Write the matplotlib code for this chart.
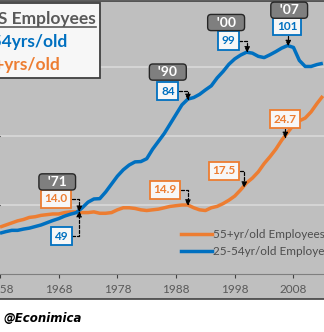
import matplotlib
matplotlib.use("Agg")
import matplotlib.pyplot as plt
from matplotlib.patches import Rectangle
from matplotlib.lines import Line2D

# data (annual)
years = list(range(1958, 2014))
prime_age = [42.0, 42.5, 42.9, 42.9, 43.3, 43.6, 44.1, 44.6, 45.3, 46.0,
             46.6, 47.4, 48.0, 48.5, 50.0, 51.8, 52.8, 52.9, 55.0, 57.5,
             60.0, 62.0, 63.5, 64.5, 64.6, 65.5, 68.5, 71.0, 73.5, 76.5,
             79.5, 82.5, 84.3, 84.8, 85.8, 87.2, 88.5, 91.0, 93.0, 95.3,
             97.0, 98.2, 99.1, 98.8, 97.8, 97.4, 98.3, 99.3, 100.4, 101.2,
             100.6, 96.5, 94.6, 94.6, 95.2, 95.6]
older = [11.8, 12.1, 12.4, 12.7, 12.9, 13.2, 13.3, 13.5, 13.6, 13.7,
         13.7, 13.9, 14.0, 14.0, 13.9, 13.9, 14.0, 13.8, 13.8, 13.9,
         14.3, 14.6, 14.6, 14.5, 14.3, 14.2, 14.3, 14.4, 14.6, 14.8,
         14.9, 15.0, 15.0, 14.6, 14.3, 14.2, 14.6, 14.8, 15.2, 15.7,
         16.3, 17.2, 18.2, 18.9, 19.8, 21.0, 22.0, 23.1, 24.4, 25.5,
         26.6, 27.2, 27.6, 28.5, 29.7, 30.8]

ann_x = [1971.5, 1990.0, 2000.1, 2007.1]
ann_tags = ["'71", "'90", "'00", "'07"]
ann_prime = [49, 84, 99, 101]
ann_older = [14.0, 14.9, 17.5, 24.7]
xticks = [1958, 1968, 1978, 1988, 1998, 2008]

BLUE = '#0070C0'
ORANGE = '#ED7D31'
GREY_TXT = '#595959'
BG = '#BFBFBF'

plt.rcParams['font.family'] = ['Lato', 'DejaVu Sans']

W, H = 324, 332
fig = plt.figure(figsize=(W / 100, H / 100), dpi=100)
fig.patch.set_facecolor('white')

def fx(x):
    return x / W

def fy(y):
    return 1 - y / H

# grey chart area with dark border (behind the axes)
fig.patches.append(Rectangle((-0.01, fy(299)), 1.02, fy(0.7) - fy(299),
                             transform=fig.transFigure, facecolor=BG,
                             edgecolor='#404040', linewidth=1.2, zorder=-5))

ax = fig.add_axes([0, fy(274), 1, fy(-2) - fy(274)])
ax.set_facecolor('none')
ax.set_xlim(1958.29, 2013.2)
ax.set_ylim(5, 45)
ax.set_yticks([15, 25, 35])
ax.yaxis.grid(True, color='#D9D9D9', linewidth=1.2)
ax.set_axisbelow(True)
ax.tick_params(axis='y', left=False, labelleft=False)
for s in ['top', 'left', 'right']:
    ax.spines[s].set_visible(False)
ax.spines['bottom'].set_color('#7F7F7F')
ax.set_xticks(xticks)
ax.tick_params(axis='x', direction='out', length=3, color='#404040',
               labelsize=8.5, labelcolor=GREY_TXT, pad=4)

ax.plot(years, older, color=ORANGE, linewidth=2.5, solid_capstyle='butt')

ax2 = ax.twinx()
ax2.set_ylim(29.13, 116.2)
ax2.axis('off')
ax2.plot(years, prime_age, color=BLUE, linewidth=2.5, solid_capstyle='butt')

arrow = dict(arrowstyle='-|>', color='black', linestyle=(0, (2.5, 1.5)),
             linewidth=0.9, mutation_scale=8, shrinkA=0, shrinkB=0,
             connectionstyle='angle,angleA=0,angleB=90,rad=0')

def value_box(col):
    return dict(boxstyle='square,pad=0.3', facecolor='#F7F7F7',
                edgecolor=col, linewidth=1.3)

tag_box = dict(boxstyle='round,pad=0.15,rounding_size=0.25',
               facecolor='#7F7F7F', edgecolor='#262626', linewidth=1.0)

prime_off = [(-18, -25), (-20, 9), (-19, 12), (-1, 20)]
older_off = [(-23, 13), (-23, 16), (-20, 17), (0, 19)]
tag_off = [(-22, 30), (-20, 28), (-21, 30), (1, 36)]

for i in range(4):
    ax2.annotate(str(ann_prime[i]), xy=(ann_x[i], ann_prime[i]),
                 xytext=prime_off[i], textcoords='offset pixels',
                 ha='center', va='center', fontsize=8.5, fontweight='bold',
                 color=BLUE, bbox=value_box(BLUE), arrowprops=arrow, zorder=5)
    ox = ann_x[i] - 0.5 if i > 1 else ann_x[i]
    ax2.annotate('%.1f' % ann_older[i], xy=(ox, ann_older[i]),
                 xycoords=ax.transData,
                 xytext=older_off[i], textcoords='offset pixels',
                 ha='center', va='center', fontsize=8.5, fontweight='bold',
                 color=ORANGE, bbox=value_box(ORANGE), arrowprops=arrow, zorder=5)
    if i == 0:
        ref = (ann_x[i], ann_older[i])
        coords = ax.transData
    else:
        ref = (ann_x[i], ann_prime[i])
        coords = ax2.transData
    ax2.annotate('  ' + ann_tags[i] + '  ', xy=ref, xycoords=coords,
                 xytext=tag_off[i], textcoords='offset pixels',
                 ha='center', va='center', fontsize=10, fontweight='bold',
                 color='white', bbox=tag_box, zorder=6)

handles = [Line2D([], [], color=ORANGE, linewidth=2.5),
           Line2D([], [], color=BLUE, linewidth=2.5)]
ax2.legend(handles, ['55+yr/old Employees', '25-54yr/old Employees'],
           loc='upper left', bbox_to_anchor=(fx(181), fy(229)),
           bbox_transform=fig.transFigure, frameon=False, fontsize=8.5,
           handlelength=2.6, handletextpad=0.15, labelspacing=0.55,
           borderpad=0, borderaxespad=0, labelcolor='#4D4D4D')

# title box, cut at the left edge
fig.patches.append(Rectangle((fx(-30), fy(78)), fx(130), fy(3) - fy(78),
                             transform=fig.transFigure, facecolor='#F7F7F7',
                             edgecolor='#404040', linewidth=1.3, zorder=3))
fig.text(fx(96), fy(19), 'US Employees', ha='right', va='center',
         fontsize=12.5, fontweight='bold', color=GREY_TXT, zorder=4)
fig.add_artist(Line2D([fx(0), fx(96)], [fy(27), fy(27)],
                      transform=fig.transFigure, color=GREY_TXT, linewidth=1.2,
                      zorder=4))
fig.text(fx(68), fy(42), '25-54yrs/old', ha='right', va='center',
         fontsize=12.5, fontweight='bold', color=BLUE, zorder=4)
fig.text(fx(60), fy(65), '55+yrs/old', ha='right', va='center',
         fontsize=12.5, fontweight='bold', color=ORANGE, zorder=4)

fig.text(fx(3), fy(318), '@Econimica', ha='left', va='center', fontsize=8.5,
         fontweight='bold', fontstyle='italic', color='black',
         family=['DejaVu Sans'])

fig.savefig('out.png', dpi=100, facecolor='white')
